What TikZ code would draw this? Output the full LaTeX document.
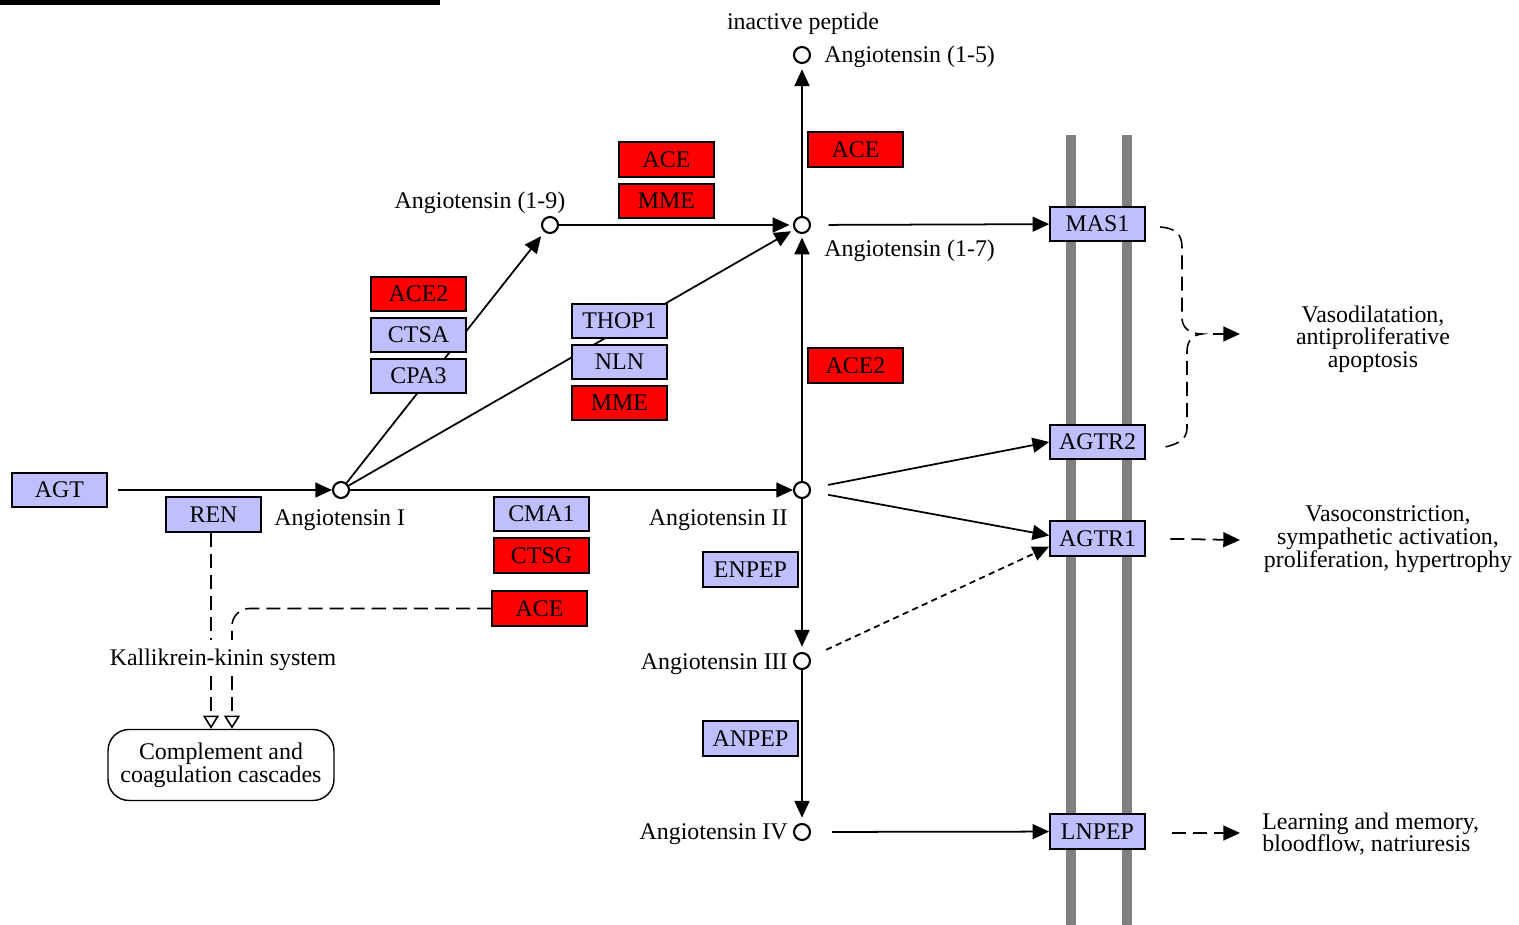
\documentclass[tikz,border=0pt]{standalone}
\usepackage{fontspec}
\setmainfont{Liberation Serif}
\usetikzlibrary{arrows.meta,calc,backgrounds}
\definecolor{gblue}{HTML}{BFBFFF}
\definecolor{gred}{HTML}{FF0000}
\definecolor{memb}{HTML}{808080}
\newcommand\kfont{\fontsize{13.6}{13}\selectfont}
\begin{document}
\begin{tikzpicture}[x=0.02cm,y=-0.02cm,
  gene/.style={draw=black, line width=0.9pt, minimum width=1.9cm, minimum height=0.69cm, inner sep=0pt, font=\kfont},
  bgene/.style={gene, fill=gblue},
  rgene/.style={gene, fill=gred},
  cpd/.style={circle, draw=black, line width=1.2pt, fill=white, minimum size=0.32cm, inner sep=0pt},
  arr/.style={line width=1pt, -{Triangle[length=9.5pt,width=8.5pt]}},
  lbl/.style={font=\kfont, inner sep=0pt, yshift=-1.2pt},
  dsh/.style={line width=0.9pt, dash pattern=on 8pt off 4pt},
  fdsh/.style={dash pattern=on 3.5pt off 2.5pt},
  oarr/.style={-{Triangle[open,length=7.5pt,width=9pt]}}
]
\useasboundingbox (0,0) rectangle (1519,925);
% top-left frame fragment
\draw[line width=2.5pt] (-20,-20) rectangle (438,2.5);

% compounds
\node[cpd] (a1) at (341,490) {};
\node[cpd] (a19) at (550,225) {};
\node[cpd] (a17) at (802,225) {};
\node[cpd] (a15) at (802,55) {};
\node[cpd] (a2) at (802,490) {};
\node[cpd] (a3) at (802,661) {};
\node[cpd] (a4) at (802,832) {};

% genes
\node[bgene] (agt) at (59.5,490) {AGT};
\node[bgene] (ren) at (213.5,514.5) {REN};
\node[rgene] (ace2a) at (418.5,294) {ACE2};
\node[bgene] (ctsa) at (418.5,335) {CTSA};
\node[bgene] (cpa3) at (418.5,376) {CPA3};
\node[bgene] (thop1) at (619.5,321) {THOP1};
\node[bgene] (nln) at (619.5,362) {NLN};
\node[rgene] (mme2) at (619.5,403) {MME};
\node[rgene] (ace1) at (666.5,159.5) {ACE};
\node[rgene] (mme1) at (666.5,201) {MME};
\node[rgene] (ace3) at (855.5,149.5) {ACE};
\node[rgene] (ace2b) at (855.5,365.5) {ACE2};
\node[bgene] (cma1) at (541.5,514) {CMA1};
\node[rgene] (ctsg) at (541.5,555.5) {CTSG};
\node[rgene] (ace4) at (539.5,608.5) {ACE};
\node[bgene] (enpep) at (750.5,569.5) {ENPEP};
\node[bgene] (anpep) at (750.5,738.5) {ANPEP};
\node[bgene] (mas1) at (1097.5,224) {MAS1};
\node[bgene] (agtr2) at (1097.5,442) {AGTR2};
\node[bgene] (agtr1) at (1097.5,538.5) {AGTR1};
\node[bgene] (lnpep) at (1097.5,831.5) {LNPEP};

% labels
\node[lbl] (tinact) at (803,22) {inactive peptide};
\node[lbl, anchor=west] (t15) at (824,55) {Angiotensin (1-5)};
\node[lbl] (t19) at (480,201) {Angiotensin (1-9)};
\node[lbl, anchor=west] (t17) at (824,249) {Angiotensin (1-7)};
\node[lbl, anchor=west] (t1) at (274,518) {Angiotensin I};
\node[lbl, anchor=east] (t2) at (788,518) {Angiotensin II};
\node[lbl, anchor=east] (t3) at (788,662) {Angiotensin III};
\node[lbl, anchor=east] (t4) at (788,832) {Angiotensin IV};
\node[lbl] (kk) at (223,658) {Kallikrein-kinin system};
\node[draw, line width=0.8pt, rounded corners=12pt, minimum width=4.52cm, minimum height=1.42cm, align=center, font=\kfont, inner sep=0pt] (cc) at (221,765) {Complement and\\coagulation cascades};
\node[lbl, align=center] (eff1) at (1373,337) {Vasodilatation,\\antiproliferative\\apoptosis};
\node[lbl, align=center] (eff2) at (1388,537) {Vasoconstriction,\\sympathetic activation,\\proliferation, hypertrophy};
\node[lbl, align=left, anchor=west] (eff3) at (1262,832) {Learning and memory,\\bloodflow, natriuresis};

\begin{pgfonlayer}{background}
% membrane
\draw[line width=5.5pt, memb] (1071,135) -- (1071,925);
\draw[line width=5.5pt, memb] (1127,135) -- (1127,925);

% main reactions
\draw[arr, shorten <=6pt] (agt) -- (a1);
\draw[arr] (a1) -- (a2);
\draw[arr, shorten >=3pt] (a1) -- (a19);
\draw[arr, shorten >=2pt] (a1) -- (a17);
\draw[arr, shorten >=2pt] (a19) -- (a17);
\draw[arr, shorten >=2pt] (a2) -- (a17);
\draw[arr, shorten >=3pt] (a17) -- (a15);
\draw[arr, shorten <=10pt] (a17) -- (mas1);
\draw[arr, shorten <=10pt] (a2) -- (agtr2.west);
\draw[arr, shorten <=10pt] (a2) -- ($(agtr1.west)+(0,-3)$);
\draw[arr, fdsh, shorten <=10pt] (a3) -- ($(agtr1.west)+(0,8)$);
\draw[arr, shorten >=3pt] (a2) -- (a3);
\draw[arr, shorten >=3pt] (a3) -- (a4);
\draw[arr, shorten <=12pt] (a4) -- (lnpep);

% outputs
\coordinate (o2) at (1240,540);
\coordinate (o3) at (1240,833);
\draw[arr, dash pattern=on 8pt off 4pt, shorten <=14pt] (agtr1.east) -- (o2);
\draw[arr, dash pattern=on 8pt off 4pt, shorten <=15pt] (lnpep.east |- o3) -- (o3);

% brace
\coordinate (bs) at (1160,227);
\coordinate (bm) at (1202,334);
\coordinate (be) at (1160,448);
\coordinate (bt) at (1240,334);
\draw[dsh] (bs) .. controls (1175,228) and (1182,234) .. (1182,247) -- (1182,318)
  .. controls (1182,328) and (1190,334) .. (bm)
  .. controls (1192,335) and (1187,341) .. (1187,352) -- (1187,428)
  .. controls (1187,440) and (1177,445) .. (be);
\draw[arr, shorten <=6pt] (bm) -- (bt);

% kallikrein
\coordinate (k1a) at (211,640);
\coordinate (k1b) at (211,676);
\coordinate (k2a) at (232,640);
\coordinate (k2b) at (232,676);
\draw[dsh] (ren.south -| k1a) -- (k1a);
\draw[dsh, oarr] (k1b) -- (k1b |- cc.north);
\draw[dsh, rounded corners=10pt] (ace4.west) -- (ace4.west -| k2a) -- (k2a);
\draw[dsh, oarr] (k2b) -- (k2b |- cc.north);
\end{pgfonlayer}
\end{tikzpicture}
\end{document}
